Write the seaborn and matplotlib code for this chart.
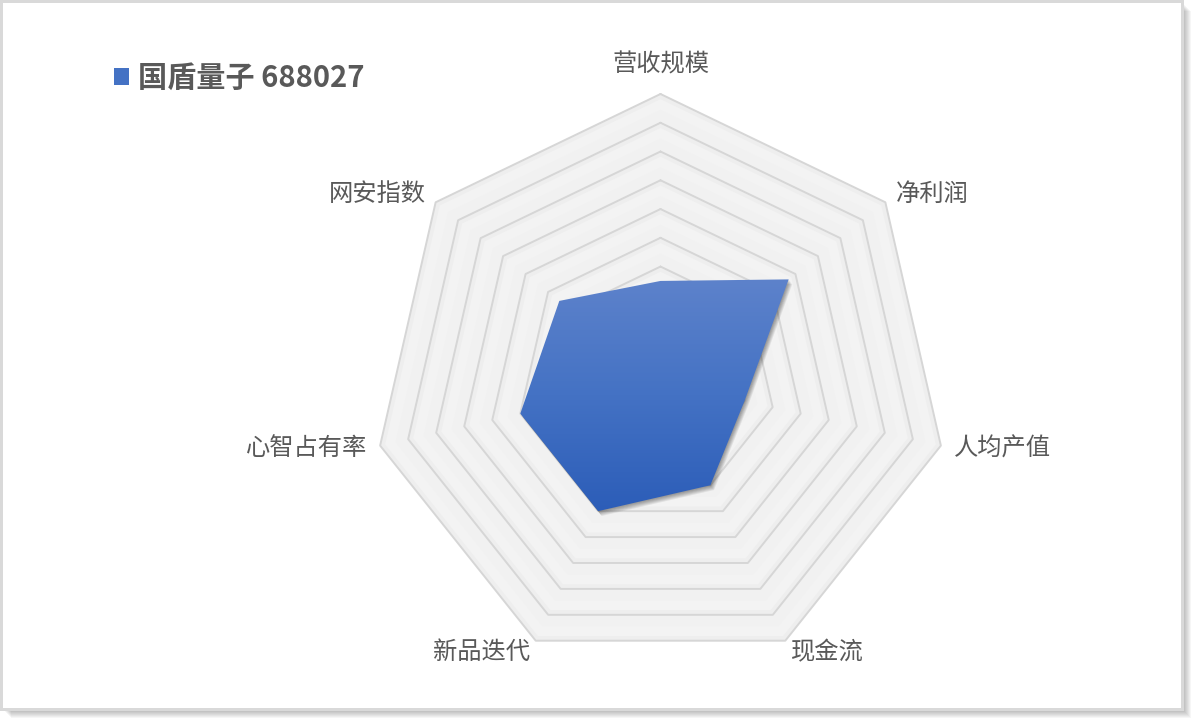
import numpy as np
import pandas as pd
import seaborn as sns
import matplotlib.pyplot as plt
from matplotlib.patches import Polygon, Rectangle, Patch
from matplotlib.colors import LinearSegmentedColormap

sns.set_theme(style="white")
plt.rcParams['font.family'] = ['Noto Sans CJK SC', 'DejaVu Sans']

# data
categories = ["营收规模", "净利润", "人均产值", "现金流", "新品迭代", "心智占有率", "网安指数"]
values = [3.5, 5.7, 3.0, 4.0, 5.0, 5.0, 4.5]
series_name = "国盾量子 688027"
ring_levels = list(range(1, 11))

W, H = 1191, 720
S = 28.76           # pixels per unit
CX, CY = 660.5, 381.6  # center in pixels from top-left
TXT = "#595959"

n = len(categories)
theta = 2 * np.pi * np.arange(n) / n


def to_xy(r):
    r = np.asarray(r, dtype=float)
    return r * np.sin(theta), r * np.cos(theta)


def px_rect(x0, y0, x1, y1, **kw):
    # rectangle given in pixels from top-left
    return Rectangle((x0 / W, 1 - y1 / H), (x1 - x0) / W, (y1 - y0) / H,
                     transform=fig.transFigure, edgecolor="none", **kw)


fig = plt.figure(figsize=(W / 100, H / 100), dpi=100)
fig.patch.set_facecolor("white")

# outer frame with drop shadow
for i in range(8):
    fig.patches.append(px_rect(4 + i, 4 + i, 1184 + i, 711 + i, facecolor="#000000",
                               alpha=0.035, zorder=-5))
fig.patches.append(px_rect(0, 0, 1184, 711, facecolor="#d9d9d9", zorder=-4))
fig.patches.append(px_rect(3, 3, 1181, 708, facecolor="white", zorder=-3))

ax = fig.add_axes([0, 0, 1, 1])
ax.set_xlim(-CX / S, (W - CX) / S)
ax.set_ylim(-(H - CY) / S, CY / S)
ax.axis("off")

# grid bands
for k in ring_levels[::-1]:
    gx, gy = to_xy([k] * n)
    ax.fill(gx, gy, facecolor="#eeeeee", edgecolor="none", zorder=1)
    bx, by = to_xy([k - 0.18] * n)
    ax.fill(bx, by, facecolor="#f3f3f3", edgecolor="none", zorder=1)
    cx_, cy_ = to_xy([k - 0.55] * n)
    ax.fill(cx_, cy_, facecolor="#f1f1f1", edgecolor="none", zorder=1)

rings = []
for k in ring_levels:
    gx, gy = to_xy([k] * n)
    rings.append(pd.DataFrame({"x": np.append(gx, gx[0]), "y": np.append(gy, gy[0]), "ring": k,
                               "order": np.arange(n + 1)}))
rings = pd.concat(rings, ignore_index=True)
sns.lineplot(data=rings, x="x", y="y", units="ring", estimator=None, sort=False,
             color="#d6d6d6", linewidth=1.4, ax=ax, zorder=2, legend=False)

# data polygon
px, py = to_xy(values)
pts = np.column_stack([px, py])

# soft shadow
for i in range(1, 7):
    off = np.array([i * 0.6 / S, -i * 0.8 / S])
    ax.add_patch(Polygon(pts + off, closed=True, facecolor="#000000", alpha=0.07,
                         edgecolor="none", zorder=3))

cmap = LinearSegmentedColormap.from_list("blu", ["#2c5db8", "#4472c4", "#5d82cb"])
poly = Polygon(pts, closed=True, facecolor="none", edgecolor="none", zorder=4)
ax.add_patch(poly)
grad = np.linspace(0, 1, 256).reshape(-1, 1)
im = ax.imshow(grad, cmap=cmap, origin="lower", aspect="auto",
               extent=[px.min(), px.max(), py.min(), py.max()], zorder=4)
im.set_clip_path(poly)
ax.set_xlim(-CX / S, (W - CX) / S)
ax.set_ylim(-(H - CY) / S, CY / S)

# category labels
for i, lab in enumerate(categories):
    if i == 0:
        lx, ly = 0, 11.04
        ha = "center"
    else:
        lx, ly = 10.45 * np.sin(theta[i]), 10.45 * np.cos(theta[i])
        ha = "left" if np.sin(theta[i]) > 0 else "right"
    ax.text(lx, ly, lab, ha=ha, va="center", fontsize=17.5, color=TXT, zorder=5)

# legend
handle = Patch(facecolor="#4472c4", edgecolor="none", label=series_name)
leg = ax.legend(handles=[handle], loc="center left", bbox_to_anchor=(114 / W, 1 - 78 / H),
                bbox_transform=fig.transFigure, frameon=False, borderpad=0, borderaxespad=0,
                handlelength=0.52, handleheight=0.52, handletextpad=0.3,
                prop={"size": 21, "weight": "bold"}, labelcolor=TXT)

fig.savefig("out.png", dpi=100)
